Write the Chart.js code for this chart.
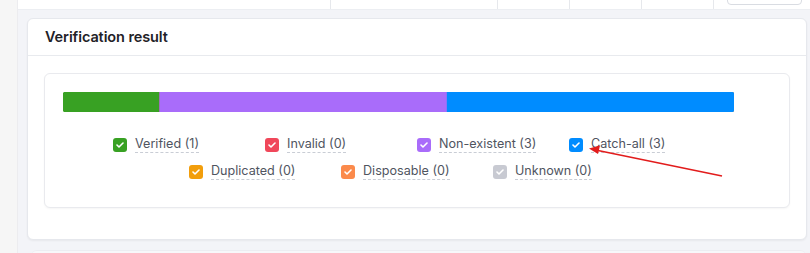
<!DOCTYPE html>
<html>
<head>
<meta charset="utf-8">
<script src="https://cdn.jsdelivr.net/npm/chart.js@4/dist/chart.umd.min.js"></script>
<style>
  html, body { margin: 0; padding: 0; }
  body {
    width: 810px; height: 253px; overflow: hidden; position: relative;
    background: #f3f4f8; font-family: Inter, "Noto Sans", sans-serif;
  }
  .side { position: absolute; left: 0; top: 0; width: 17px; height: 253px; background: #f6f6f6; border-right: 1px solid #ececef; }
  .toprow { position: absolute; left: 18px; top: 0; width: 792px; height: 9px; background: #fff; border-bottom: 1px solid #eceef2; }
  .toprow i { position: absolute; top: 0; width: 1px; height: 9px; background: #e6e8ec; }
  .btn { position: absolute; left: 727px; top: -10px; width: 73px; height: 13px; border: 1px solid #d9dce2; border-radius: 4px; background: #fff; }
  .card {
    position: absolute; left: 27px; top: 18px; width: 778px; height: 220px;
    background: #fff; border: 1px solid #e6e8ed; border-radius: 6px;
    box-shadow: 0 1px 2px rgba(0,0,0,0.05);
  }
  .card h3 {
    margin: 0; position: absolute; left: 17px; top: 9px;
    font-size: 14.5px; font-weight: 600; color: #1f2227; letter-spacing: -0.1px;
  }
  .card .hr { position: absolute; left: 0; right: 0; top: 36px; height: 1px; background: #e8eaee; }
  .inner {
    position: absolute; left: 44px; top: 73px; width: 744px; height: 133px;
    border: 1px solid #e9eaee; border-radius: 6px; background: #fff;
    box-shadow: 0 1px 2px rgba(0,0,0,0.04);
  }
  #barBox { position: absolute; left: 63px; top: 92px; width: 671px; height: 20px; }
  .legend {
    position: absolute; left: 62px; top: 131px; width: 710px;
    display: flex; flex-wrap: wrap; justify-content: center;
  }
  .item { width: 152px; height: 27px; display: flex; align-items: center; box-sizing: border-box; }
  .box {
    width: 14px; height: 14px; border-radius: 3px; margin-right: 8px; flex: none;
    display: flex; align-items: center; justify-content: center;
  }
  .lbl {
    font-size: 12.6px; color: #50555f; line-height: 15px;
    border-bottom: 1px dashed #c9cdd5; padding-bottom: 1px; white-space: nowrap;
  }
  .next { position: absolute; left: 31px; top: 250px; width: 775px; height: 6px; background: #f7f8fa; border-top: 1px solid #eceef2; border-radius: 6px 6px 0 0; }
  svg.arrow { position: absolute; left: 0; top: 0; }
</style>
</head>
<body>
<div class="side"></div>
<div class="toprow">
  <i style="left:312px"></i><i style="left:479px"></i><i style="left:551px"></i><i style="left:623px"></i><i style="left:695px"></i>
</div>
<div class="btn"></div>
<div class="card">
  <h3>Verification result</h3>
  <div class="hr"></div>
</div>
<div class="inner"></div>
<div id="barBox"><canvas id="bar"></canvas></div>
<div class="legend" id="legend"></div>
<div class="next"></div>
<svg class="arrow" width="810" height="253">
  <line x1="722" y1="176" x2="598" y2="150.5" stroke="#e21c1c" stroke-width="1.6"/>
  <polygon points="589,148.5 600,145.5 598,154" fill="#e21c1c"/>
</svg>

<script>
// ===== データ =====
const categories = ["Verified", "Invalid", "Non-existent", "Catch-all", "Duplicated", "Disposable", "Unknown"];
const counts = [1, 0, 3, 3, 0, 0, 0];
const colors = ["#38a123", "#f0475a", "#a96cfa", "#008cff", "#f29e0c", "#fb8a4b", "#c8cad2"];

// ===== 積み上げ横棒 =====
const total = counts.reduce((a, b) => a + b, 0);

new Chart(document.getElementById("bar"), {
  type: "bar",
  data: {
    labels: ["result"],
    datasets: categories.map((c, i) => ({
      label: c,
      data: [counts[i]],
      backgroundColor: colors[i],
      borderWidth: 0,
      borderRadius: 3,
      borderSkipped: "middle",
      barPercentage: 1,
      categoryPercentage: 1
    }))
  },
  options: {
    indexAxis: "y",
    responsive: true,
    maintainAspectRatio: false,
    animation: false,
    layout: { padding: 0 },
    scales: {
      x: { stacked: true, min: 0, max: total, display: false },
      y: { stacked: true, display: false }
    },
    plugins: { legend: { display: false }, tooltip: { enabled: false } }
  }
});

// ===== 凡例（チェックボックス風） =====
const check = '<svg width="8" height="6" viewBox="0 0 8 6"><path d="M1 3 L3 5 L7 1" fill="none" stroke="#fff" stroke-width="1.6" stroke-linecap="round" stroke-linejoin="round"/></svg>';
const legend = document.getElementById("legend");
categories.forEach((c, i) => {
  const el = document.createElement("div");
  el.className = "item";
  el.innerHTML = `<span class="box" style="background:${colors[i]}">${check}</span><span class="lbl">${c} (${counts[i]})</span>`;
  legend.appendChild(el);
});
</script>
</body>
</html>
